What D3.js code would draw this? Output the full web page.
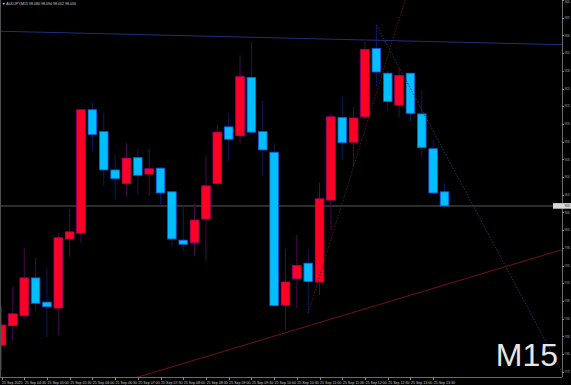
<!DOCTYPE html>
<html>
<head>
<meta charset="utf-8">
<script src="https://cdn.jsdelivr.net/npm/d3@7"></script>
<style>
  html, body { margin: 0; padding: 0; background: #000; }
  svg { display: block; font-family: "Liberation Sans", Arial, sans-serif; }
</style>
</head>
<body>
<script>
const width = 571;
const height = 385;
const plotRight = 562;
const plotBottom = 377;

// AUDJPY M15 candles, left to right
const opens  = [97.820, 97.853, 97.870, 97.934, 97.893, 97.883, 98.000, 98.010, 98.219, 98.182,
                98.117, 98.094, 98.138, 98.110, 98.120, 98.080, 97.998, 97.994, 98.034, 98.094,
                98.190, 98.175, 98.274, 98.182, 98.147, 97.888, 97.933, 97.959, 97.927, 98.066,
                98.206, 98.164, 98.207, 98.323, 98.281, 98.227, 98.281, 98.212, 98.153, 98.080];
const highs  = [97.886, 97.919, 97.985, 97.968, 97.951, 98.010, 98.051, 98.219, 98.231, 98.214,
                98.142, 98.163, 98.154, 98.153, 98.122, 98.081, 98.058, 98.060, 98.141, 98.193,
                98.214, 98.311, 98.334, 98.234, 98.162, 97.983, 98.007, 97.983, 98.096, 98.213,
                98.241, 98.224, 98.334, 98.363, 98.286, 98.289, 98.282, 98.252, 98.168, 98.094];
const lows   = [97.778, 97.828, 97.864, 97.877, 97.834, 97.837, 97.970, 97.993, 98.149, 98.090,
                98.066, 98.072, 98.075, 98.073, 98.058, 97.988, 97.980, 97.971, 97.963, 98.089,
                98.131, 98.162, 98.180, 98.107, 97.886, 97.846, 97.883, 97.874, 97.905, 98.014,
                98.134, 98.123, 98.205, 98.258, 98.217, 98.207, 98.199, 98.139, 98.077, 98.052];
const closes = [97.854, 97.873, 97.934, 97.891, 97.885, 98.002, 98.012, 98.219, 98.177, 98.117,
                98.102, 98.137, 98.108, 98.119, 98.078, 98.000, 97.991, 98.032, 98.090, 98.181,
                98.169, 98.275, 98.181, 98.151, 97.887, 97.927, 97.955, 97.928, 98.068, 98.207,
                98.163, 98.205, 98.321, 98.283, 98.233, 98.277, 98.213, 98.155, 98.078, 98.056];

const priceTicks = [98.405, 98.375, 98.345, 98.315, 98.285, 98.255, 98.225, 98.195, 98.165, 98.135, 98.105,
                    98.075, 98.045, 98.015, 97.985, 97.955, 97.925, 97.895, 97.865, 97.835, 97.805, 97.775];

const timeTickIndex = [0, 2, 4, 6, 8, 10, 12, 14, 16, 18, 20, 22, 24, 26, 28, 30, 32, 34, 36, 38];
const timeTickLabels = ["25 Sep 2025", "25 Sep 04:30", "25 Sep 05:00", "25 Sep 05:30", "25 Sep 06:00",
                        "25 Sep 06:30", "25 Sep 07:00", "25 Sep 07:30", "25 Sep 08:00", "25 Sep 08:30",
                        "25 Sep 09:00", "25 Sep 09:30", "25 Sep 10:00", "25 Sep 10:30", "25 Sep 11:00",
                        "25 Sep 11:30", "25 Sep 12:00", "25 Sep 12:30", "25 Sep 13:00", "25 Sep 13:30"];

// trend lines: [index, price] anchors
const trendLines = [
  { a: [0, 98.352], b: [39, 98.334], ray: false, color: "#1f2f80", dash: null },
  { a: [25, 97.841], b: [39, 97.922], ray: false, color: "#701212", dash: null },
  { a: [27, 97.874], b: [31, 98.123], ray: true, color: "#5a1818", dash: "1.5,1.5" },
  { a: [33, 98.363], b: [44, 97.967], ray: true, color: "#25346e", dash: "1.5,1.5" }
];

const symbolTitle = "AUDJPY,M15 98.080 98.094 98.052 98.056";
const bidPrice = 98.056;
const periodLabel = "M15";

const candles = opens.map((o, i) => ({ i, o, h: highs[i], l: lows[i], c: closes[i] }));

const x = d3.scaleLinear().domain([0, 39]).range([1.5, 444.5]);
const y = d3.scaleLinear().domain([97.775, 98.405]).range([371.7, 0]);
const bodyW = 8.6;

const svg = d3.select(document.body).append("svg")
    .attr("width", width)
    .attr("height", height);

svg.append("rect").attr("width", width).attr("height", height).attr("fill", "#000");

svg.append("defs").append("clipPath").attr("id", "plot")
    .append("rect").attr("x", 0).attr("y", 0).attr("width", plotRight).attr("height", plotBottom);

const plot = svg.append("g").attr("clip-path", "url(#plot)");

// bid line
plot.append("line")
    .attr("x1", 0).attr("x2", plotRight)
    .attr("y1", y(bidPrice)).attr("y2", y(bidPrice))
    .attr("stroke", "#3c3c3c").attr("stroke-width", 1.5);

// wicks
plot.append("g").selectAll("line")
    .data(candles)
    .join("line")
    .attr("x1", d => x(d.i)).attr("x2", d => x(d.i))
    .attr("y1", d => y(d.h)).attr("y2", d => y(d.l))
    .attr("stroke", d => d.c >= d.o ? "#4a0a4e" : "#0e1866")
    .attr("stroke-width", 1);

// bodies
plot.append("g").selectAll("rect")
    .data(candles)
    .join("rect")
    .attr("x", d => x(d.i) - bodyW / 2)
    .attr("y", d => y(Math.max(d.o, d.c)))
    .attr("width", bodyW)
    .attr("height", d => Math.max(1, Math.abs(y(d.o) - y(d.c))))
    .attr("fill", d => d.c >= d.o ? "#ff0022" : "#00bfff")
    .attr("stroke", d => d.c >= d.o ? "#b0007a" : "#1a55e0")
    .attr("stroke-width", 0.8);

// trend lines
trendLines.forEach(t => {
    const x1 = x(t.a[0]), y1 = y(t.a[1]);
    const x2 = x(t.b[0]), y2 = y(t.b[1]);
    const dx = x2 - x1, dy = y2 - y1;
    const k = 2000 / Math.hypot(dx, dy);
    const sx = t.ray ? x1 : x1 - dx * k, sy = t.ray ? y1 : y1 - dy * k;
    plot.append("line")
        .attr("x1", sx).attr("y1", sy)
        .attr("x2", x1 + dx * k).attr("y2", y1 + dy * k)
        .attr("stroke", t.color)
        .attr("stroke-width", 1)
        .attr("stroke-dasharray", t.dash);
});

// frame
svg.append("line").attr("x1", 0.5).attr("x2", 0.5).attr("y1", 0).attr("y2", plotBottom)
    .attr("stroke", "#505050");
svg.append("line").attr("x1", plotRight + 0.5).attr("x2", plotRight + 0.5).attr("y1", 0).attr("y2", plotBottom)
    .attr("stroke", "#6a6a6a");
svg.append("line").attr("x1", 0).attr("x2", plotRight).attr("y1", plotBottom + 0.5).attr("y2", plotBottom + 0.5)
    .attr("stroke", "#6a6a6a");

// price axis (labels squeezed into the narrow strip right of the axis)
const labelX = plotRight + 2.8;
const labelLen = 4.9;
const yAxis = svg.append("g");
yAxis.selectAll("line")
    .data(priceTicks)
    .join("line")
    .attr("x1", plotRight).attr("x2", plotRight + 2)
    .attr("y1", d => Math.round(y(d)) + 0.5).attr("y2", d => Math.round(y(d)) + 0.5)
    .attr("stroke", "#8a8a8a");
yAxis.selectAll("text")
    .data(priceTicks)
    .join("text")
    .attr("x", labelX)
    .attr("y", d => Math.min(Math.max(y(d) + 1.2, 3.2), plotBottom))
    .attr("fill", "#c8c8c8")
    .attr("font-size", 3.4)
    .attr("textLength", labelLen)
    .attr("lengthAdjust", "spacingAndGlyphs")
    .text(d => d.toFixed(3));

// bid label
svg.append("rect")
    .attr("x", 553).attr("y", y(bidPrice) - 2.8)
    .attr("width", 18).attr("height", 5.6)
    .attr("fill", "#d8d8d8");
svg.append("text")
    .attr("x", labelX).attr("y", y(bidPrice) + 1.2)
    .attr("fill", "#000")
    .attr("font-size", 3.4)
    .attr("textLength", labelLen)
    .attr("lengthAdjust", "spacingAndGlyphs")
    .text(bidPrice.toFixed(3));

// time axis
const xAxis = svg.append("g");
xAxis.selectAll("line")
    .data(timeTickIndex)
    .join("line")
    .attr("x1", d => Math.round(x(d)) + 0.5).attr("x2", d => Math.round(x(d)) + 0.5)
    .attr("y1", plotBottom).attr("y2", plotBottom + 3)
    .attr("stroke", "#8a8a8a");
xAxis.selectAll("text")
    .data(timeTickIndex)
    .join("text")
    .attr("x", d => x(d) + 0.5)
    .attr("y", plotBottom + 6.5)
    .attr("fill", "#c8c8c8")
    .attr("font-size", 3.6)
    .text((d, i) => timeTickLabels[i]);

// title
svg.append("text")
    .attr("x", 2).attr("y", 5)
    .attr("fill", "#d0d0d0")
    .attr("font-size", 3.6)
    .text("\u25BC " + symbolTitle);

// period watermark
svg.append("text")
    .attr("x", 558).attr("y", 366)
    .attr("text-anchor", "end")
    .attr("fill", "#e6e6e6")
    .attr("font-size", 32)
    .text(periodLabel);
</script>
</body>
</html>
